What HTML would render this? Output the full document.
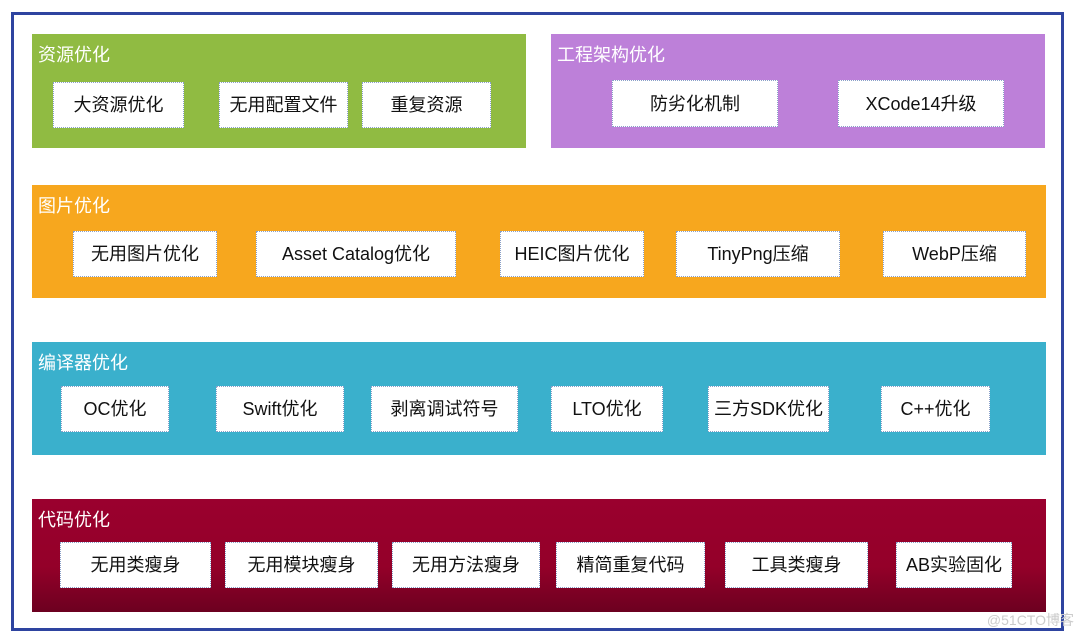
<!DOCTYPE html>
<html><head><meta charset="utf-8"><style>
body{margin:0;width:1080px;height:636px;background:#fff;position:relative;overflow:hidden;font-family:"Liberation Sans","Noto Sans CJK SC",sans-serif}
.o{position:absolute;left:11px;top:12px;width:1047px;height:613px;border:3px solid #2e44a0;box-sizing:content-box}
.g{position:absolute}
.t{position:absolute;color:#fff;font-size:18px;left:6px;top:7px;white-space:nowrap}
.b{position:absolute;background:#fff;border:1px dotted #8aa0c8;box-sizing:border-box;font-size:18px;color:#111;display:flex;align-items:center;justify-content:center;white-space:nowrap;padding-bottom:2px}
.w{position:absolute;right:6px;bottom:6px;color:#ccc;font-size:14px}
</style></head><body>
<div class="o"></div>
<div class="g" style="left:32px;top:34px;width:494px;height:114px;background:#90bb42"><div class="t">资源优化</div></div>
<div class="g" style="left:551px;top:34px;width:494px;height:114px;background:#bd80d9"><div class="t">工程架构优化</div></div>
<div class="g" style="left:32px;top:185px;width:1014px;height:113px;background:#f7a71e"><div class="t">图片优化</div></div>
<div class="g" style="left:32px;top:342px;width:1014px;height:113px;background:#3ab0cc"><div class="t">编译器优化</div></div>
<div class="g" style="left:32px;top:499px;width:1014px;height:113px;background:linear-gradient(#9a002e,#940029 60%,#6c0020)"><div class="t">代码优化</div></div>

<div class="b" style="left:53px;top:82px;width:131px;height:46px">大资源优化</div>
<div class="b" style="left:219px;top:82px;width:129px;height:46px">无用配置文件</div>
<div class="b" style="left:362px;top:82px;width:129px;height:46px">重复资源</div>
<div class="b" style="left:612px;top:80px;width:166px;height:47px">防劣化机制</div>
<div class="b" style="left:838px;top:80px;width:166px;height:47px">XCode14升级</div>

<div class="b" style="left:73px;top:231px;width:144px;height:46px">无用图片优化</div>
<div class="b" style="left:256px;top:231px;width:200px;height:46px">Asset Catalog优化</div>
<div class="b" style="left:500px;top:231px;width:144px;height:46px">HEIC图片优化</div>
<div class="b" style="left:676px;top:231px;width:164px;height:46px">TinyPng压缩</div>
<div class="b" style="left:883px;top:231px;width:143px;height:46px">WebP压缩</div>

<div class="b" style="left:61px;top:386px;width:108px;height:46px">OC优化</div>
<div class="b" style="left:216px;top:386px;width:128px;height:46px">Swift优化</div>
<div class="b" style="left:371px;top:386px;width:147px;height:46px">剥离调试符号</div>
<div class="b" style="left:551px;top:386px;width:112px;height:46px">LTO优化</div>
<div class="b" style="left:708px;top:386px;width:121px;height:46px">三方SDK优化</div>
<div class="b" style="left:881px;top:386px;width:109px;height:46px">C++优化</div>

<div class="b" style="left:60px;top:542px;width:151px;height:46px">无用类瘦身</div>
<div class="b" style="left:225px;top:542px;width:153px;height:46px">无用模块瘦身</div>
<div class="b" style="left:392px;top:542px;width:148px;height:46px">无用方法瘦身</div>
<div class="b" style="left:556px;top:542px;width:149px;height:46px">精简重复代码</div>
<div class="b" style="left:725px;top:542px;width:143px;height:46px">工具类瘦身</div>
<div class="b" style="left:896px;top:542px;width:116px;height:46px">AB实验固化</div>
<div class="w">@51CTO博客</div>
</body></html>
